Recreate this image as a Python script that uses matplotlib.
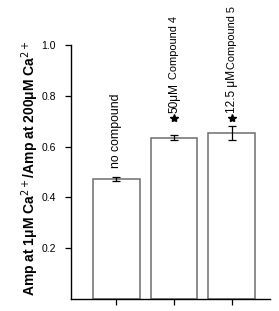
import matplotlib
matplotlib.use("Agg")
import matplotlib.pyplot as plt

plt.rcParams['font.family'] = ['Liberation Sans', 'DejaVu Sans']

categories = ["no compound", "50μM Compound 4", "12.5 μMCompound 5"]
values = [0.472, 0.635, 0.654]
errors = [0.008, 0.009, 0.028]
significant = [False, True, True]
yticks = [0.2, 0.4, 0.6, 0.8, 1.0]
ytick_labels = ["0.2", "0.4", "0.6", "0.8", "1.0"]

fig = plt.figure(figsize=(2.79, 3.11), dpi=100)
ax = fig.add_axes([0.2545, 0.0394, 0.7135, 0.8156])
x = list(range(len(values)))
ax.bar(x, values, width=0.81, color='white', edgecolor='#6e6e6e', linewidth=1.1, zorder=2)
ax.errorbar(x, values, yerr=errors, fmt='none', ecolor='black', elinewidth=0.9, capsize=3, capthick=0.9, zorder=3)

ax.set_xlim(-0.78, 2.66)
ax.set_ylim(0, 1.0)
ax.set_yticks(yticks)
ax.set_yticklabels(ytick_labels, fontsize=7.5)
ax.set_xticks(x)
ax.set_xticklabels([])
ax.tick_params(axis='both', direction='out', length=4, width=0.9, color='black')
ax.tick_params(axis='y', pad=7)
for s in ['top', 'right']:
    ax.spines[s].set_visible(False)
for s in ['left', 'bottom']:
    ax.spines[s].set_linewidth(1.0)

ax.set_ylabel("Amp at 1μM Ca$^{2+}$/Amp at 200μM Ca$^{2+}$", fontsize=10, fontweight='bold')
ax.yaxis.set_label_coords(-0.15, 0.515)

# labels
ax.text(0, 0.515, "no compound", rotation=90, ha='center', va='bottom', fontsize=8.8)
label_parts = [None, ("50μM", " Compound 4"), ("12.5 μM", "Compound 5")]
for i, sig in enumerate(significant):
    if not sig:
        continue
    ystar = 0.712
    ax.plot(i, ystar, marker='*', color='black', markersize=6, clip_on=False, zorder=4)
    big, small = label_parts[i]
    t = ax.text(i, 0.732, big, rotation=90, ha='center', va='bottom', fontsize=8.6, clip_on=False)
    fig.canvas.draw()
    bb = t.get_window_extent().transformed(ax.transData.inverted())
    ax.text(i, bb.y1 + 0.003, small, rotation=90, ha='center', va='bottom', fontsize=7.9, clip_on=False)

fig.savefig("out.png", dpi=100)
